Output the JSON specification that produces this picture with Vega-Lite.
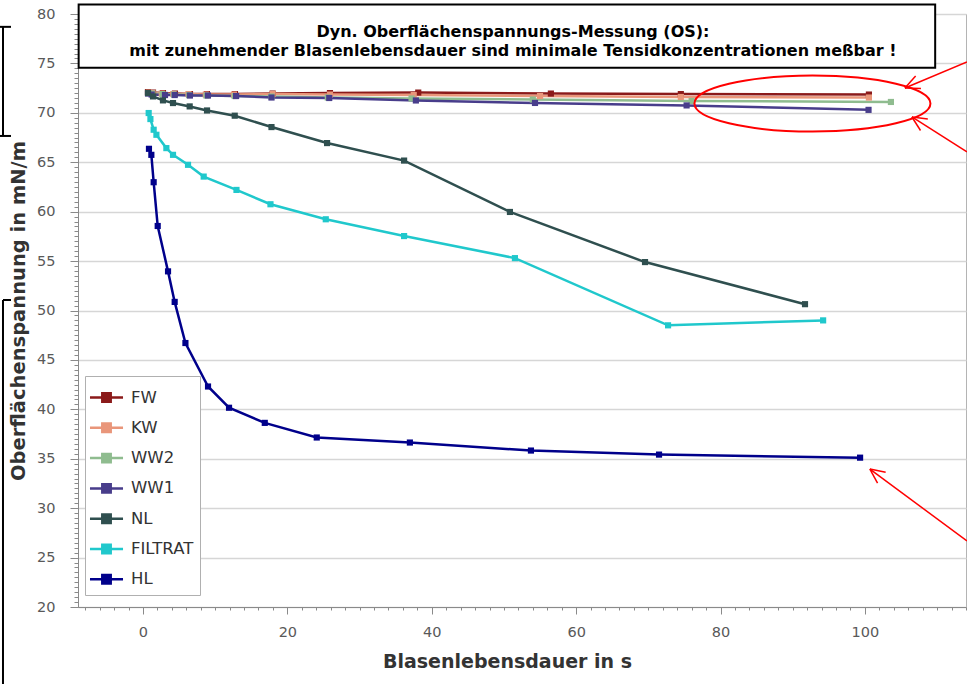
{
  "$schema": "https://vega.github.io/schema/vega-lite/v6.json",
  "width": 888,
  "height": 593,
  "autosize": {"type": "none"},
  "padding": {"left": 78, "top": 14, "right": 1, "bottom": 77},
  "background": "white",
  "config": {
    "font": "DejaVu Sans",
    "view": {"stroke": "#b4b4b4", "strokeWidth": 1}
  },
  "data": {"values": [{}]},
  "datasets": {
    "curves": [
      {"series": "FW", "t": 0.69, "sigma": 72.1},
      {"series": "FW", "t": 1.39, "sigma": 72.05},
      {"series": "FW", "t": 2.77, "sigma": 72.0},
      {"series": "FW", "t": 4.43, "sigma": 71.95},
      {"series": "FW", "t": 6.51, "sigma": 71.9},
      {"series": "FW", "t": 8.86, "sigma": 71.9},
      {"series": "FW", "t": 12.74, "sigma": 71.9},
      {"series": "FW", "t": 17.96, "sigma": 71.95},
      {"series": "FW", "t": 25.9, "sigma": 72.0},
      {"series": "FW", "t": 38.13, "sigma": 72.05},
      {"series": "FW", "t": 56.5, "sigma": 71.95},
      {"series": "FW", "t": 74.5, "sigma": 71.9},
      {"series": "FW", "t": 100.55, "sigma": 71.85},
      {"series": "KW", "t": 0.8, "sigma": 72.05},
      {"series": "KW", "t": 1.3, "sigma": 72.0},
      {"series": "KW", "t": 2.6, "sigma": 71.95},
      {"series": "KW", "t": 4.2, "sigma": 71.9},
      {"series": "KW", "t": 6.3, "sigma": 71.9},
      {"series": "KW", "t": 8.7, "sigma": 71.85},
      {"series": "KW", "t": 12.6, "sigma": 71.85},
      {"series": "KW", "t": 17.96, "sigma": 71.9},
      {"series": "KW", "t": 25.9, "sigma": 71.85},
      {"series": "KW", "t": 37.5, "sigma": 71.8},
      {"series": "KW", "t": 55, "sigma": 71.7},
      {"series": "KW", "t": 74.5, "sigma": 71.6},
      {"series": "KW", "t": 100.55, "sigma": 71.55},
      {"series": "WW2", "t": 0.75, "sigma": 72.0},
      {"series": "WW2", "t": 1.3, "sigma": 71.95},
      {"series": "WW2", "t": 2.7, "sigma": 71.9},
      {"series": "WW2", "t": 4.3, "sigma": 71.85},
      {"series": "WW2", "t": 6.4, "sigma": 71.8},
      {"series": "WW2", "t": 8.8, "sigma": 71.75},
      {"series": "WW2", "t": 12.7, "sigma": 71.7},
      {"series": "WW2", "t": 17.8, "sigma": 71.65},
      {"series": "WW2", "t": 25.6, "sigma": 71.55},
      {"series": "WW2", "t": 37.2, "sigma": 71.45},
      {"series": "WW2", "t": 54, "sigma": 71.35},
      {"series": "WW2", "t": 76, "sigma": 71.2},
      {"series": "WW2", "t": 103.6, "sigma": 71.1},
      {"series": "WW1", "t": 0.7, "sigma": 71.95},
      {"series": "WW1", "t": 1.2, "sigma": 71.85},
      {"series": "WW1", "t": 3.05, "sigma": 71.8},
      {"series": "WW1", "t": 4.4, "sigma": 71.8},
      {"series": "WW1", "t": 6.5, "sigma": 71.75},
      {"series": "WW1", "t": 9.0, "sigma": 71.75},
      {"series": "WW1", "t": 12.9, "sigma": 71.7},
      {"series": "WW1", "t": 17.8, "sigma": 71.55},
      {"series": "WW1", "t": 25.8, "sigma": 71.5},
      {"series": "WW1", "t": 37.8, "sigma": 71.25},
      {"series": "WW1", "t": 54.3, "sigma": 71.0},
      {"series": "WW1", "t": 75.3, "sigma": 70.75},
      {"series": "WW1", "t": 100.5, "sigma": 70.3},
      {"series": "NL", "t": 0.69, "sigma": 72.01},
      {"series": "NL", "t": 1.39, "sigma": 71.66},
      {"series": "NL", "t": 2.77, "sigma": 71.26},
      {"series": "NL", "t": 4.16, "sigma": 70.99},
      {"series": "NL", "t": 6.47, "sigma": 70.65},
      {"series": "NL", "t": 8.87, "sigma": 70.24},
      {"series": "NL", "t": 12.71, "sigma": 69.71},
      {"series": "NL", "t": 17.8, "sigma": 68.56},
      {"series": "NL", "t": 25.5, "sigma": 66.94},
      {"series": "NL", "t": 36.17, "sigma": 65.17},
      {"series": "NL", "t": 50.83, "sigma": 59.97},
      {"series": "NL", "t": 69.54, "sigma": 54.9},
      {"series": "NL", "t": 91.7, "sigma": 50.64},
      {"series": "FILTRAT", "t": 0.79, "sigma": 69.98},
      {"series": "FILTRAT", "t": 1.03, "sigma": 69.37},
      {"series": "FILTRAT", "t": 1.48, "sigma": 68.29},
      {"series": "FILTRAT", "t": 1.86, "sigma": 67.78},
      {"series": "FILTRAT", "t": 3.24, "sigma": 66.43},
      {"series": "FILTRAT", "t": 4.16, "sigma": 65.75},
      {"series": "FILTRAT", "t": 6.24, "sigma": 64.74},
      {"series": "FILTRAT", "t": 8.41, "sigma": 63.55},
      {"series": "FILTRAT", "t": 12.95, "sigma": 62.2},
      {"series": "FILTRAT", "t": 17.66, "sigma": 60.75},
      {"series": "FILTRAT", "t": 25.32, "sigma": 59.23},
      {"series": "FILTRAT", "t": 36.17, "sigma": 57.53},
      {"series": "FILTRAT", "t": 51.52, "sigma": 55.3},
      {"series": "FILTRAT", "t": 72.73, "sigma": 48.5},
      {"series": "FILTRAT", "t": 94.21, "sigma": 49.0},
      {"series": "HL", "t": 0.83, "sigma": 66.36},
      {"series": "HL", "t": 1.16, "sigma": 65.75},
      {"series": "HL", "t": 1.48, "sigma": 62.98},
      {"series": "HL", "t": 2.04, "sigma": 58.55},
      {"series": "HL", "t": 3.47, "sigma": 53.96},
      {"series": "HL", "t": 4.39, "sigma": 50.87},
      {"series": "HL", "t": 5.88, "sigma": 46.71},
      {"series": "HL", "t": 9.01, "sigma": 42.31},
      {"series": "HL", "t": 11.92, "sigma": 40.16},
      {"series": "HL", "t": 16.87, "sigma": 38.63},
      {"series": "HL", "t": 24.07, "sigma": 37.15},
      {"series": "HL", "t": 36.97, "sigma": 36.64},
      {"series": "HL", "t": 53.74, "sigma": 35.83},
      {"series": "HL", "t": 71.48, "sigma": 35.42},
      {"series": "HL", "t": 99.33, "sigma": 35.11}
    ],
    "arrows": [
      {"x1": 114.13, "y1": 75.14, "x2": 105.54, "y2": 72.51},
      {"x1": 105.54, "y1": 72.51, "x2": 107.76, "y2": 72.45},
      {"x1": 105.54, "y1": 72.51, "x2": 107.02, "y2": 73.72},
      {"x1": 114.13, "y1": 66.04, "x2": 106.51, "y2": 69.58},
      {"x1": 106.51, "y1": 69.58, "x2": 107.7, "y2": 68.21},
      {"x1": 106.51, "y1": 69.58, "x2": 108.71, "y2": 69.37},
      {"x1": 114.13, "y1": 26.68, "x2": 100.69, "y2": 33.96},
      {"x1": 100.69, "y1": 33.96, "x2": 101.75, "y2": 32.53},
      {"x1": 100.69, "y1": 33.96, "x2": 102.87, "y2": 33.64}
    ],
    "frame": [
      {"x1": -19.39, "y1": 78.7, "x2": -19.39, "y2": 67.66},
      {"x1": -19.81, "y1": 78.7, "x2": -18.28, "y2": 78.7},
      {"x1": -19.81, "y1": 67.66, "x2": -18.28, "y2": 67.66},
      {"x1": -19.39, "y1": 51.06, "x2": -19.39, "y2": 12.21},
      {"x1": -19.39, "y1": 51.06, "x2": -18.28, "y2": 51.06}
    ]
  },
  "resolve": {"axis": {"x": "independent", "y": "independent"}},
  "layer": [
    {
      "data": {"name": "curves"},
      "mark": {"type": "point", "opacity": 0},
      "encoding": {
        "x": {
          "field": "t", "type": "quantitative",
          "scale": {"domain": [-9, 114], "nice": false, "zero": false},
          "axis": {"orient": "bottom", "values": [-8,-6,-4,-2,0,2,4,6,8,10,12,14,16,18,20,22,24,26,28,30,32,34,36,38,40,42,44,46,48,50,52,54,56,58,60,62,64,66,68,70,72,74,76,78,80,82,84,86,88,90,92,94,96,98,100,102,104,106,108,110,112,114], "labels": false, "tickSize": 3, "tickColor": "#8a8a8a", "domain": false, "grid": false, "title": null}
        },
        "y": {
          "field": "sigma", "type": "quantitative",
          "scale": {"domain": [20, 80], "nice": false, "zero": false},
          "axis": {"orient": "left", "values": [20,20.5,21,21.5,22,22.5,23,23.5,24,24.5,25,25.5,26,26.5,27,27.5,28,28.5,29,29.5,30,30.5,31,31.5,32,32.5,33,33.5,34,34.5,35,35.5,36,36.5,37,37.5,38,38.5,39,39.5,40,40.5,41,41.5,42,42.5,43,43.5,44,44.5,45,45.5,46,46.5,47,47.5,48,48.5,49,49.5,50,50.5,51,51.5,52,52.5,53,53.5,54,54.5,55,55.5,56,56.5,57,57.5,58,58.5,59,59.5,60,60.5,61,61.5,62,62.5,63,63.5,64,64.5,65,65.5,66,66.5,67,67.5,68,68.5,69,69.5,70,70.5,71,71.5,72,72.5,73,73.5,74,74.5,75,75.5,76,76.5,77,77.5,78,78.5,79,79.5,80], "labels": false, "tickSize": 4, "tickColor": "#8a8a8a", "domain": false, "grid": false, "title": null}
        }
      }
    },
    {
      "data": {"name": "curves"},
      "mark": {"type": "line", "strokeWidth": 2.5},
      "encoding": {
        "x": {
          "field": "t", "type": "quantitative",
          "scale": {"domain": [-9, 114], "nice": false, "zero": false},
          "axis": {"orient": "bottom", "values": [0, 20, 40, 60, 80, 100], "tickSize": 7, "tickColor": "#8a8a8a", "domainColor": "#8a8a8a", "grid": false, "labelFontSize": 14.5, "labelColor": "#595959", "labelPadding": 11, "title": "Blasenlebensdauer in s", "titleFontSize": 19, "titleFontWeight": "bold", "titleColor": "#333333", "titlePadding": 14, "titleX": 429}
        },
        "y": {
          "field": "sigma", "type": "quantitative",
          "scale": {"domain": [20, 80], "nice": false, "zero": false},
          "axis": {"orient": "left", "values": [20, 25, 30, 35, 40, 45, 50, 55, 60, 65, 70, 75, 80], "tickSize": 8, "tickColor": "#8a8a8a", "domainColor": "#8a8a8a", "grid": true, "gridColor": "#d6d6d6", "gridWidth": 1.5, "labelFontSize": 14.5, "labelColor": "#595959", "labelPadding": 15, "labelFlush": false, "labelOverlap": false, "title": "Oberflächenspannung in mN/m", "titleFontSize": 19.5, "titleFontWeight": "bold", "titleColor": "#333333", "titlePadding": 8}
        },
        "color": {
          "field": "series", "type": "nominal",
          "scale": {"domain": ["FW", "KW", "WW2", "WW1", "NL", "FILTRAT", "HL"], "range": ["#8B1A1A", "#E9967A", "#8FBC8F", "#483D8B", "#2F4F4F", "#20C8CC", "#00008B"]},
          "legend": {
            "title": null, "orient": "none", "legendX": 7, "legendY": 362,
            "symbolType": "M-1.18,0L1.18,0M-0.3,-0.3L0.3,-0.3L0.3,0.3L-0.3,0.3Z",
            "symbolSize": 784, "symbolStrokeWidth": 2.5,
            "labelFontSize": 16.5, "labelColor": "#333333", "labelOffset": 9,
            "rowPadding": 5.3, "padding": 6, "strokeColor": "#b0b0b0", "fillColor": "white",
            "encode": {"symbols": {"update": {"fill": {"scale": "color", "field": "value"}, "stroke": {"scale": "color", "field": "value"}}}}
          }
        }
      }
    },
    {
      "data": {"name": "curves"},
      "mark": {"type": "point", "shape": "square", "filled": true, "size": 38, "opacity": 1},
      "encoding": {
        "x": {"field": "t", "type": "quantitative", "scale": {"domain": [-9, 114], "nice": false, "zero": false}, "axis": null},
        "y": {"field": "sigma", "type": "quantitative", "scale": {"domain": [20, 80], "nice": false, "zero": false}, "axis": null},
        "color": {"field": "series", "type": "nominal", "legend": null}
      }
    },
    {
      "mark": {"type": "rect", "fill": "white", "stroke": "black", "strokeWidth": 2, "clip": false},
      "encoding": {
        "x": {"datum": -8.91, "type": "quantitative", "scale": {"domain": [-9, 114], "nice": false, "zero": false}, "axis": null},
        "x2": {"datum": 109.73},
        "y": {"datum": 80.96, "type": "quantitative", "scale": {"domain": [20, 80], "nice": false, "zero": false}, "axis": null},
        "y2": {"datum": 74.57}
      }
    },
    {
      "mark": {"type": "text", "fontSize": 16, "fontWeight": "bold", "color": "black", "align": "center", "baseline": "alphabetic", "clip": false},
      "encoding": {
        "x": {"datum": 51.25, "type": "quantitative", "scale": {"domain": [-9, 114], "nice": false, "zero": false}, "axis": null},
        "y": {"datum": 77.67, "type": "quantitative", "scale": {"domain": [20, 80], "nice": false, "zero": false}, "axis": null},
        "text": {"value": "Dyn. Oberflächenspannungs-Messung (OS):"}
      }
    },
    {
      "mark": {"type": "text", "fontSize": 16, "fontWeight": "bold", "color": "black", "align": "center", "baseline": "alphabetic", "clip": false},
      "encoding": {
        "x": {"datum": 51.25, "type": "quantitative", "scale": {"domain": [-9, 114], "nice": false, "zero": false}, "axis": null},
        "y": {"datum": 75.75, "type": "quantitative", "scale": {"domain": [20, 80], "nice": false, "zero": false}, "axis": null},
        "text": {"value": "mit zunehmender Blasenlebensdauer sind minimale Tensidkonzentrationen meßbar !"}
      }
    },
    {
      "mark": {"type": "point", "shape": "M-1,0C-1,-0.1309,-0.5523,-0.237,0,-0.237C0.5523,-0.237,1,-0.1309,1,0C1,0.1309,0.5523,0.237,0,0.237C-0.5523,0.237,-1,0.1309,-1,0Z", "size": 55696, "filled": false, "stroke": "#ff0000", "strokeWidth": 2, "opacity": 1, "clip": false},
      "encoding": {
        "x": {"datum": 92.73, "type": "quantitative", "scale": {"domain": [-9, 114], "nice": false, "zero": false}, "axis": null},
        "y": {"datum": 70.94, "type": "quantitative", "scale": {"domain": [20, 80], "nice": false, "zero": false}, "axis": null}
      }
    },
    {
      "data": {"name": "arrows"},
      "mark": {"type": "rule", "stroke": "#ff0000", "strokeWidth": 1.5, "clip": false},
      "encoding": {
        "x": {"field": "x1", "type": "quantitative", "scale": {"domain": [-9, 114], "nice": false, "zero": false}, "axis": null},
        "y": {"field": "y1", "type": "quantitative", "scale": {"domain": [20, 80], "nice": false, "zero": false}, "axis": null},
        "x2": {"field": "x2"},
        "y2": {"field": "y2"}
      }
    },
    {
      "data": {"name": "frame"},
      "mark": {"type": "rule", "stroke": "#000000", "strokeWidth": 2, "clip": false},
      "encoding": {
        "x": {"field": "x1", "type": "quantitative", "scale": {"domain": [-9, 114], "nice": false, "zero": false}, "axis": null},
        "y": {"field": "y1", "type": "quantitative", "scale": {"domain": [20, 80], "nice": false, "zero": false}, "axis": null},
        "x2": {"field": "x2"},
        "y2": {"field": "y2"}
      }
    }
  ]
}
